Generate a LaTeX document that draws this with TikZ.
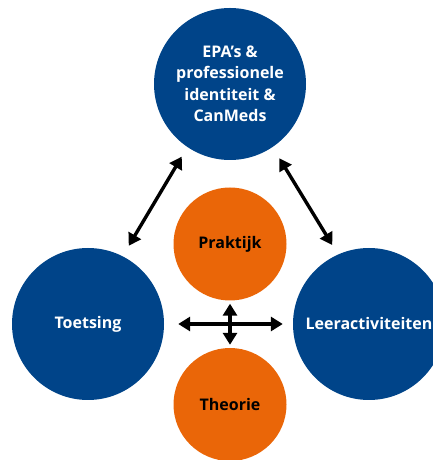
\documentclass[tikz,border=0pt]{standalone}
\usepackage{fontspec}
\setmainfont{Open Sans}
\usetikzlibrary{arrows.meta}
\definecolor{epablue}{RGB}{0,68,137}
\definecolor{epaorange}{RGB}{234,102,8}
\tikzset{
  bigcircle/.style={circle, fill=epablue, text=white, align=center, inner sep=0pt,
    minimum size=152pt, font=\bfseries\fontsize{16}{21.5}\selectfont},
  smallcircle/.style={circle, fill=epaorange, text=black, align=center, inner sep=0pt,
    minimum size=113pt, font=\bfseries\fontsize{16}{21.5}\selectfont},
  twoway/.style={{Triangle[length=12pt,width=14pt]}-{Triangle[length=12pt,width=14pt]},
    line width=3.4pt, black}
}
\begin{document}
\begin{tikzpicture}[x=1pt, y=1pt]
    \useasboundingbox (0,0) rectangle (432,460);

    % Circles
    \node[bigcircle] (epa) at (230,376) {EPA's \&\\professionele\\identiteit \&\\CanMeds};
    \node[bigcircle] (toets) at (88,136) {Toetsing};
    \node[bigcircle] (leer) at (369,136) {Leeractiviteiten};
    \node[smallcircle] (prak) at (230,216) {Praktijk};
    \node[smallcircle] (theo) at (230,55.5) {Theorie};

    % Arrows
    \draw[twoway, shorten <=11pt, shorten >=12pt] (epa.236) -- (toets.63);
    \draw[twoway, shorten <=13pt, shorten >=11pt] (epa.304) -- (leer.114);
    \draw[twoway, shorten <=14pt, shorten >=10pt] (toets) -- (leer);
    \draw[twoway, shorten <=3pt, shorten >=3pt] (prak) -- (theo);

\end{tikzpicture}
\end{document}
